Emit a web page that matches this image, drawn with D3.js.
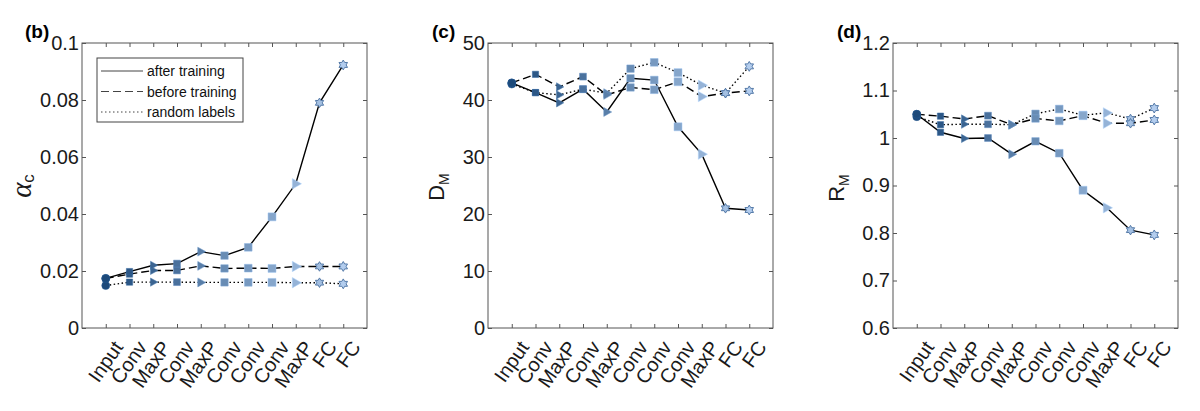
<!DOCTYPE html>
<html>
<head>
<meta charset="utf-8">
<script src="https://cdn.jsdelivr.net/npm/d3@7"></script>
<style>
  body { margin: 0; background: #fff; }
  svg { display: block; font-family: "Liberation Sans", Arial, sans-serif; }
</style>
</head>
<body>
<svg id="chart"></svg>
<script>
// layers of the network, one point per layer
const layers = ["Input", "Conv", "MaxP", "Conv", "MaxP", "Conv", "Conv", "Conv", "MaxP", "FC", "FC"];

// (b) alpha_c
const alphaAfter  = [0.0174, 0.0198, 0.0220, 0.0226, 0.0268, 0.0254, 0.0283, 0.0390, 0.0506, 0.0790, 0.0923];
const alphaBefore = [0.0174, 0.0189, 0.0202, 0.0202, 0.0218, 0.0209, 0.0210, 0.0209, 0.0216, 0.0216, 0.0216];
const alphaRandom = [0.0149, 0.0161, 0.0161, 0.0161, 0.0160, 0.0160, 0.0160, 0.0160, 0.0159, 0.0159, 0.0155];
const alphaTicks  = [0, 0.02, 0.04, 0.06, 0.08, 0.1];

// (c) D_M
const dimAfter  = [43.0, 41.3, 39.5, 41.9, 37.9, 43.8, 43.5, 35.3, 30.5, 21.0, 20.7];
const dimBefore = [43.0, 44.5, 42.3, 44.1, 40.9, 42.2, 41.8, 43.2, 40.6, 41.2, 41.6];
const dimRandom = [42.8, 41.3, 40.9, 41.9, 41.2, 45.5, 46.6, 44.8, 42.6, 41.2, 45.9];
const dimTicks  = [0, 10, 20, 30, 40, 50];

// (d) R_M
const radAfter  = [1.050, 1.012, 0.999, 1.000, 0.966, 0.993, 0.968, 0.890, 0.853, 0.806, 0.796];
const radBefore = [1.050, 1.046, 1.040, 1.047, 1.028, 1.041, 1.036, 1.047, 1.031, 1.031, 1.038];
const radRandom = [1.045, 1.028, 1.029, 1.029, 1.028, 1.051, 1.061, 1.048, 1.053, 1.040, 1.063];
const radTicks  = [0.6, 0.7, 0.8, 0.9, 1, 1.1, 1.2];

const legendLabels = ["after training", "before training", "random labels"];

const width = 1200;
const height = 411;
const plotTop = 43, plotBottom = 328, boxW = 285;

let svg = d3.select("#chart").attr("width", width).attr("height", height);

let colorScale = d3.scaleLinear().domain([0, layers.length - 1]).range(["#1d4a7a", "#b3cdee"]);
let sizeScale = d3.scaleLinear().domain([0, layers.length - 1]).range([6, 8.8]);

// custom markers: right triangle and hexagram
const triRight = {
  draw(ctx, size) {
    let r = Math.sqrt(size) * 0.7;
    ctx.moveTo(r, 0);
    ctx.lineTo(-r * 0.6, -r * 0.9);
    ctx.lineTo(-r * 0.6, r * 0.9);
    ctx.closePath();
  }
};
const hexagram = {
  draw(ctx, size) {
    let R = Math.sqrt(size) * 0.56;
    let r = R / Math.sqrt(3);
    for (let k = 0; k < 12; k++) {
      let a = -Math.PI / 2 + k * Math.PI / 6;
      let rr = k % 2 === 0 ? R : r;
      if (k === 0) ctx.moveTo(rr * Math.cos(a), rr * Math.sin(a));
      else ctx.lineTo(rr * Math.cos(a), rr * Math.sin(a));
    }
    ctx.closePath();
  }
};

let markerType = (name) => {
  if (name === "Input") return d3.symbolCircle;
  if (name === "Conv") return d3.symbolSquare;
  if (name === "MaxP") return triRight;
  return hexagram;
};

let panels = [
  { tag: "(b)", left: 82, tagX: 25, domain: [0, 0.1], ticks: alphaTicks,
    series: [alphaAfter, alphaBefore, alphaRandom], label: "alpha", labelX: 31, labelY: 186, legend: true },
  { tag: "(c)", left: 488, tagX: 432, domain: [0, 50], ticks: dimTicks,
    series: [dimAfter, dimBefore, dimRandom], label: "D", labelX: 444, labelY: 187 },
  { tag: "(d)", left: 893, tagX: 837, domain: [0.6, 1.2], ticks: radTicks,
    series: [radAfter, radBefore, radRandom], label: "R", labelX: 844, labelY: 188 }
];

const dashes = [null, "8,4", "1.5,2.5"];

let drawPanel = (p) => {
  let g = svg.append("g");
  let xScale = d3.scaleLinear().domain([0, layers.length + 1]).range([p.left, p.left + boxW]);
  let yScale = d3.scaleLinear().domain(p.domain).range([plotBottom, plotTop]);
  let idx = d3.range(1, layers.length + 1);

  // box
  g.append("rect")
    .attr("x", p.left).attr("y", plotTop)
    .attr("width", boxW).attr("height", plotBottom - plotTop)
    .attr("fill", "none").attr("stroke", "#555").attr("stroke-width", 1);

  let styleAxis = (sel) => {
    sel.select(".domain").remove();
    sel.selectAll("line").attr("stroke", "#555");
    sel.attr("font-size", 20).attr("font-family", null);
    sel.selectAll("text").attr("fill", "#1a1a1a");
  };

  g.append("g")
    .attr("transform", "translate(" + p.left + ",0)")
    .call(d3.axisLeft(yScale).tickValues(p.ticks).tickSizeInner(-4).tickSizeOuter(0)
      .tickPadding(3).tickFormat(d3.format("~g")))
    .call(styleAxis);

  g.append("g")
    .attr("transform", "translate(" + (p.left + boxW) + ",0)")
    .call(d3.axisRight(yScale).tickValues(p.ticks).tickSizeInner(-4).tickSizeOuter(0).tickFormat(""))
    .call(styleAxis);

  g.append("g")
    .attr("transform", "translate(0," + plotTop + ")")
    .call(d3.axisTop(xScale).tickValues(idx).tickSizeInner(-4).tickSizeOuter(0).tickFormat(""))
    .call(styleAxis);

  let xAxis = g.append("g")
    .attr("transform", "translate(0," + plotBottom + ")")
    .call(d3.axisBottom(xScale).tickValues(idx).tickSizeInner(-4).tickSizeOuter(0)
      .tickFormat((d) => layers[d - 1]))
    .call(styleAxis);
  xAxis.selectAll("text")
    .attr("x", 0).attr("y", 0).attr("dy", "0.72em")
    .attr("text-anchor", "end")
    .attr("transform", "translate(6,11) rotate(-55)");

  // lines, drawn back to front
  let line = d3.line().x((d, i) => xScale(i + 1)).y((d) => yScale(d));
  [2, 1, 0].forEach((s) => {
    g.append("path")
      .datum(p.series[s])
      .attr("d", line)
      .attr("fill", "none")
      .attr("stroke", "#000")
      .attr("stroke-width", 1.4)
      .attr("stroke-dasharray", dashes[s]);
  });
  [2, 1, 0].forEach((s) => {
    g.append("g").selectAll("path")
      .data(p.series[s])
      .enter()
      .append("path")
      .attr("transform", (d, i) => "translate(" + xScale(i + 1) + "," + yScale(d) + ")")
      .attr("d", (d, i) => {
        let sz = sizeScale(i);
        let t = markerType(layers[i]);
        let area = t === d3.symbolCircle ? Math.PI * (sz / 2 + 1) ** 2 : sz * sz;
        return d3.symbol().type(t).size(area)();
      })
      .attr("fill", (d, i) => colorScale(i))
      .attr("stroke", (d, i) => layers[i] === "FC" ? "#557aa8" : d3.color(colorScale(i)).brighter(0.5))
      .attr("stroke-width", (d, i) => layers[i] === "FC" ? 1 : 0.5);
  });

  // panel tag
  svg.append("text")
    .attr("x", p.tagX).attr("y", 38)
    .attr("font-size", 19).attr("font-weight", "bold")
    .attr("fill", "#000")
    .text(p.tag);

  // y label
  let yl = svg.append("text")
    .attr("transform", "translate(" + p.labelX + "," + p.labelY + ") rotate(-90)")
    .attr("text-anchor", "middle")
    .attr("fill", "#1a1a1a");
  if (p.label === "alpha") {
    yl.append("tspan").attr("font-family", "Liberation Serif, serif").attr("font-style", "italic")
      .attr("font-size", 29).text("α");
    yl.append("tspan").attr("font-size", 17).attr("dy", 3).text("c");
  } else {
    yl.append("tspan").attr("font-size", 22).text(p.label);
    yl.append("tspan").attr("font-size", 14).attr("dy", 5).text("M");
  }

  if (p.legend) {
    let lg = g.append("g");
    lg.append("rect")
      .attr("x", 97).attr("y", 58).attr("width", 146).attr("height", 64)
      .attr("fill", "#fff").attr("stroke", "#444").attr("stroke-width", 1);
    legendLabels.forEach((lab, k) => {
      let ly = 71 + k * 20.5;
      lg.append("line")
        .attr("x1", 101).attr("x2", 143).attr("y1", ly).attr("y2", ly)
        .attr("stroke", "#444").attr("stroke-width", 1)
        .attr("stroke-dasharray", dashes[k]);
      lg.append("text")
        .attr("x", 147).attr("y", ly + 5)
        .attr("font-size", 14).attr("fill", "#111")
        .text(lab);
    });
  }
};

panels.forEach(drawPanel);
</script>
</body>
</html>
